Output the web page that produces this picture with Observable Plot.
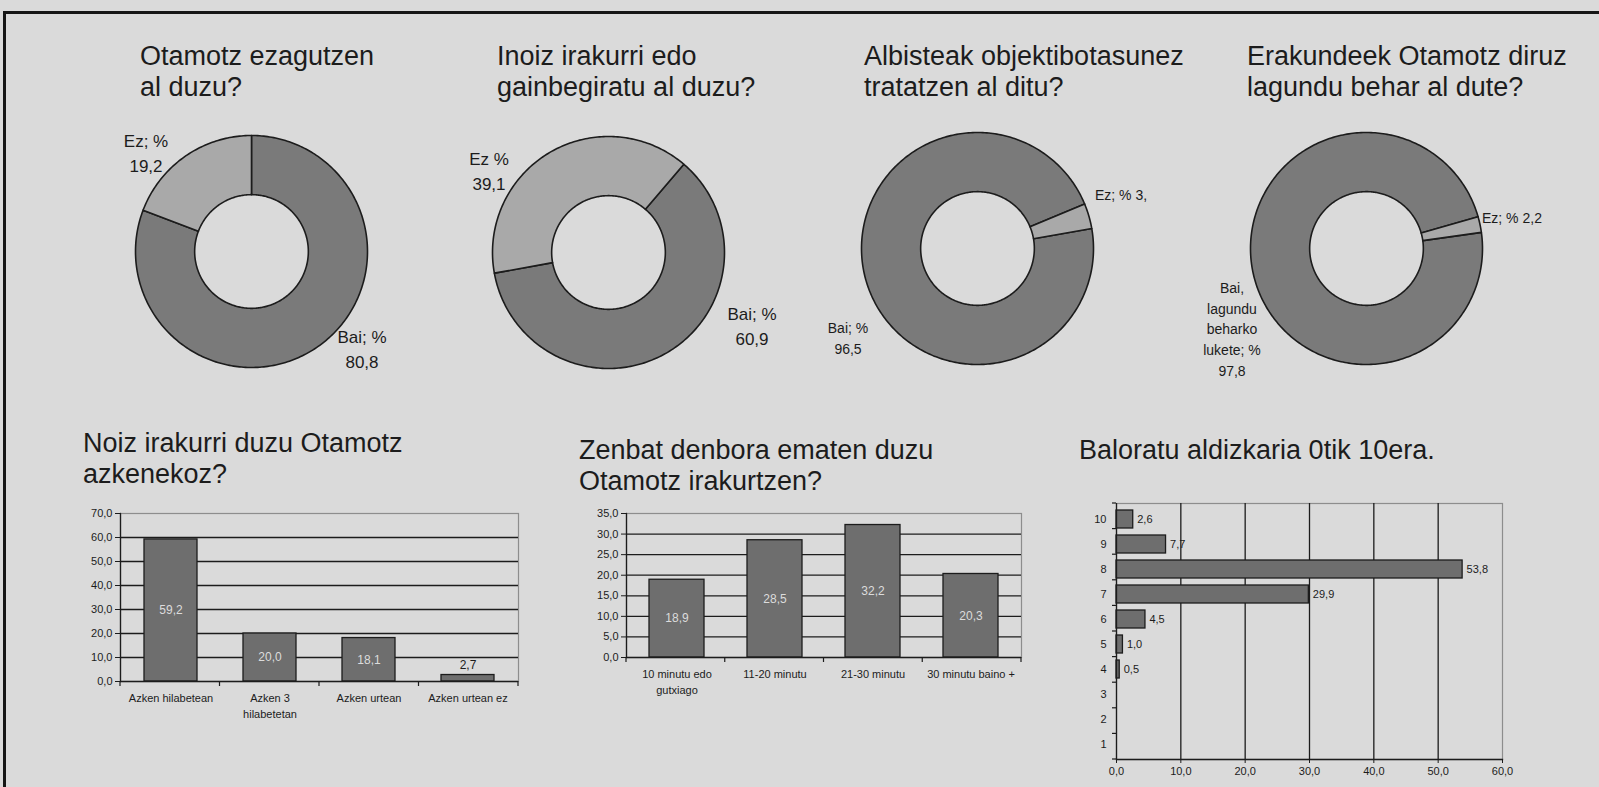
<!DOCTYPE html>
<html><head><meta charset="utf-8">
<script src="https://cdn.jsdelivr.net/npm/d3@7"></script>
<script src="https://cdn.jsdelivr.net/npm/@observablehq/plot@0.6"></script>
<style>
html,body{margin:0;padding:0;}
body{width:1599px;height:787px;overflow:hidden;background:#dadada;font-family:"Liberation Sans",Arial,sans-serif;}
#page{position:relative;width:1599px;height:787px;overflow:hidden;}
.title{position:absolute;font-size:27px;line-height:31px;color:#1c1c1c;white-space:pre;}
.lab{position:absolute;color:#1c1c1c;white-space:pre;}
.c{text-align:center;transform:translateX(-50%);}
.big{font-size:17px;line-height:25px;}
.small{font-size:14px;line-height:20.7px;}
svg{position:absolute;overflow:visible;}
</style></head>
<body><div id="page"></div>
<script>
// ---------- DATA ----------
const donutTitles = [
  "Otamotz ezagutzen\nal duzu?",
  "Inoiz irakurri edo\ngainbegiratu al duzu?",
  "Albisteak objektibotasunez\ntratatzen al ditu?",
  "Erakundeek Otamotz diruz\nlagundu behar al dute?"
];
const donutCategories = ["Bai", "Ez"];
const donut1Values = [80.8, 19.2];
const donut2Values = [60.9, 39.1];
const donut3Values = [96.5, 3.5];
const donut4Values = [97.8, 2.2];
const donut1Labels = ["Bai; %\n80,8", "Ez; %\n19,2"];
const donut2Labels = ["Bai; %\n60,9", "Ez %\n39,1"];
const donut3Labels = ["Bai; %\n96,5", "Ez; % 3,"];
const donut4Labels = ["Bai,\nlagundu\nbeharko\nlukete; %\n97,8", "Ez; % 2,2"];

const lastReadTitle = "Noiz irakurri duzu Otamotz\nazkenekoz?";
const lastReadCategories = ["Azken hilabetean", "Azken 3\nhilabetetan", "Azken urtean", "Azken urtean ez"];
const lastReadValues = [59.2, 20.0, 18.1, 2.7];
const lastReadTicks = [0, 10, 20, 30, 40, 50, 60, 70];

const timeTitle = "Zenbat denbora ematen duzu\nOtamotz irakurtzen?";
const timeCategories = ["10 minutu edo\ngutxiago", "11-20 minutu", "21-30 minutu", "30 minutu baino +"];
const timeValues = [18.9, 28.5, 32.2, 20.3];
const timeTicks = [0, 5, 10, 15, 20, 25, 30, 35];

const ratingTitle = "Baloratu aldizkaria 0tik 10era.";
const ratingCategories = ["10", "9", "8", "7", "6", "5", "4", "3", "2", "1"];
const ratingValues = [2.6, 7.7, 53.8, 29.9, 4.5, 1.0, 0.5, 0, 0, 0];
const ratingTicks = [0, 10, 20, 30, 40, 50, 60];

// ---------- LAYOUT / STYLE ----------
const DARK = "#7a7a7a", LIGHT = "#a9a9a9", INK = "#1c1c1c", BAR = "#6e6e6e", FRAME = "#8d8d8d";
const page = document.getElementById("page");
const fmt = d => d.toFixed(1).replace(".", ",");

function addDiv(cls, text, left, top) {
  const d = document.createElement("div");
  d.className = cls; d.textContent = text;
  d.style.left = left + "px"; d.style.top = top + "px";
  page.appendChild(d); return d;
}
function place(svg, left, top) {
  svg.style.left = left + "px"; svg.style.top = top + "px";
  page.appendChild(svg);
}

// borders
const topLine = document.createElement("div");
Object.assign(topLine.style, {position:"absolute", left:"3px", top:"11px", width:"1596px", height:"3px", background:"#151515"});
page.appendChild(topLine);
const leftLine = document.createElement("div");
Object.assign(leftLine.style, {position:"absolute", left:"3px", top:"11px", width:"2.5px", height:"776px", background:"#151515"});
page.appendChild(leftLine);

// ---------- DONUTS ----------
const donuts = [
  {values: donut1Values, labels: donut1Labels, start: 0,    cx: 251,  cy: 251, tx: 140},
  {values: donut2Values, labels: donut2Labels, start: 40.5, cx: 608,  cy: 252, tx: 497},
  {values: donut3Values, labels: donut3Labels, start: 80.1, cx: 977,  cy: 248, tx: 864},
  {values: donut4Values, labels: donut4Labels, start: 82.0, cx: 1366, cy: 248, tx: 1247}
];
const labelLayout = [
  [{cls:"lab big c", x:362, y:325}, {cls:"lab big c", x:146, y:129}],
  [{cls:"lab big c", x:752, y:302}, {cls:"lab big c", x:489, y:147}],
  [{cls:"lab small c", x:848, y:318}, {cls:"lab small", x:1095, y:185}],
  [{cls:"lab small c", x:1232, y:278}, {cls:"lab small", x:1482, y:208}]
];
const R = 116, INNER = 0.49, HALF = 122;

function segments(values, startDeg) {
  const total = d3.sum(values);
  let a = startDeg;
  return values.map((v, i) => {
    const a0 = a, a1 = a + v / total * 360; a = a1;
    const n = Math.max(2, Math.ceil(a1 - a0));
    const pts = [];
    for (let k = 0; k <= n; k++) { const t = (a0 + (a1 - a0) * k / n) * Math.PI / 180; pts.push({x: Math.sin(t), y: Math.cos(t)}); }
    for (let k = n; k >= 0; k--) { const t = (a0 + (a1 - a0) * k / n) * Math.PI / 180; pts.push({x: INNER * Math.sin(t), y: INNER * Math.cos(t)}); }
    pts.push(pts[0]);
    return {cat: donutCategories[i], pts};
  });
}

donuts.forEach((dn, j) => {
  addDiv("title", donutTitles[j], dn.tx, 41);
  const segs = segments(dn.values, dn.start);
  const k = HALF / R;
  const svg = Plot.plot({
    width: 2 * HALF, height: 2 * HALF,
    marginLeft: 0, marginRight: 0, marginTop: 0, marginBottom: 0,
    x: {domain: [-k, k], axis: null},
    y: {domain: [-k, k], axis: null},
    style: {background: "transparent"},
    marks: segs.map(s => Plot.line(s.pts, {x: "x", y: "y", fill: s.cat === "Bai" ? DARK : LIGHT, stroke: INK, strokeWidth: 1.6, strokeLinejoin: "round"}))
  });
  place(svg, dn.cx - HALF, dn.cy - HALF);
  dn.labels.forEach((t, i) => {
    const L = labelLayout[j][i];
    addDiv(L.cls, t, L.x, L.y);
  });
});

// ---------- helpers for band boundary ticks ----------
function xBoundaryTicks(n, len) {
  return (index, scales, values, dims) => {
    const g = d3.create("svg:g").attr("stroke", INK).attr("stroke-width", 1.2);
    const x0 = dims.marginLeft, x1 = dims.width - dims.marginRight, y = dims.height - dims.marginBottom;
    for (let i = 0; i <= n; i++) {
      const x = x0 + (x1 - x0) * i / n;
      g.append("line").attr("x1", x).attr("x2", x).attr("y1", y).attr("y2", y + len);
    }
    return g.node();
  };
}
function yBoundaryTicks(n, len) {
  return (index, scales, values, dims) => {
    const g = d3.create("svg:g").attr("stroke", INK).attr("stroke-width", 1.2);
    const y0 = dims.marginTop, y1 = dims.height - dims.marginBottom, x = dims.marginLeft;
    for (let i = 0; i <= n; i++) {
      const y = y0 + (y1 - y0) * i / n;
      g.append("line").attr("x1", x - len).attr("x2", x).attr("y1", y).attr("y2", y);
    }
    return g.node();
  };
}
const axisStyle = {background: "transparent", fontFamily: "'Liberation Sans', Arial, sans-serif", fontSize: "11px", color: INK};

// ---------- CHART: last read ----------
addDiv("title", lastReadTitle, 83, 428);
const lastRead = lastReadCategories.map((c, i) => ({cat: c, value: lastReadValues[i]}));
place(Plot.plot({
  width: 480, height: 235, marginLeft: 60, marginRight: 22, marginTop: 17, marginBottom: 50,
  style: axisStyle,
  x: {domain: lastReadCategories, paddingInner: 0.46, paddingOuter: 0.23, label: null},
  y: {domain: [0, 70], label: null},
  marks: [
    Plot.frame({stroke: FRAME, strokeWidth: 1.2}),
    Plot.gridY(lastReadTicks.slice(1, -1), {stroke: INK, strokeOpacity: 1, strokeWidth: 1.3}),
    Plot.barY(lastRead, {x: "cat", y: "value", fill: BAR, stroke: INK, strokeWidth: 1.3}),
    Plot.text(lastRead.filter(d => d.value >= 5), {x: "cat", y: d => d.value / 2, text: d => fmt(d.value), fill: "#dcdcdc", fontSize: 12}),
    Plot.text(lastRead.filter(d => d.value < 5), {x: "cat", y: "value", dy: -10, text: d => fmt(d.value), fill: INK, fontSize: 12}),
    Plot.axisY({ticks: lastReadTicks, tickFormat: fmt, tickSize: 5, tickPadding: 3, label: null, stroke: INK}),
    Plot.axisX({tickSize: 0, tickPadding: 9, label: null, lineHeight: 1.45}),
    Plot.ruleY([0], {stroke: INK, strokeWidth: 1.3}),
    Plot.frame({anchor: "left", stroke: INK, strokeWidth: 1.3}),
    xBoundaryTicks(lastReadCategories.length, 5)
  ]
}), 60, 496);

// ---------- CHART: reading time ----------
addDiv("title", timeTitle, 579, 435);
const timeData = timeCategories.map((c, i) => ({cat: c, value: timeValues[i]}));
place(Plot.plot({
  width: 470, height: 210, marginLeft: 56, marginRight: 19, marginTop: 18, marginBottom: 48,
  style: axisStyle,
  x: {domain: timeCategories, paddingInner: 0.44, paddingOuter: 0.22, label: null},
  y: {domain: [0, 35], label: null},
  marks: [
    Plot.frame({stroke: FRAME, strokeWidth: 1.2}),
    Plot.gridY(timeTicks.slice(1, -1), {stroke: INK, strokeOpacity: 1, strokeWidth: 1.3}),
    Plot.barY(timeData, {x: "cat", y: "value", fill: BAR, stroke: INK, strokeWidth: 1.3}),
    Plot.text(timeData, {x: "cat", y: d => d.value / 2, text: d => fmt(d.value), fill: "#dcdcdc", fontSize: 12}),
    Plot.axisY({ticks: timeTicks, tickFormat: fmt, tickSize: 5, tickPadding: 3, label: null, stroke: INK}),
    Plot.axisX({tickSize: 0, tickPadding: 9, label: null, lineHeight: 1.45}),
    Plot.ruleY([0], {stroke: INK, strokeWidth: 1.3}),
    Plot.frame({anchor: "left", stroke: INK, strokeWidth: 1.3}),
    xBoundaryTicks(timeCategories.length, 5)
  ]
}), 570, 495);

// ---------- CHART: rating ----------
addDiv("title", ratingTitle, 1079, 435);
const rating = ratingCategories.map((c, i) => ({cat: c, value: ratingValues[i]}));
const ratingShown = rating.filter(d => d.value > 0);
place(Plot.plot({
  width: 470, height: 304, marginLeft: 46, marginRight: 38, marginTop: 13, marginBottom: 35,
  style: axisStyle,
  y: {domain: ratingCategories, paddingInner: 0.3, paddingOuter: 0.15, label: null},
  x: {domain: [0, 60], label: null},
  marks: [
    Plot.frame({stroke: FRAME, strokeWidth: 1.2}),
    Plot.gridX(ratingTicks.slice(1, -1), {stroke: INK, strokeOpacity: 1, strokeWidth: 1.3}),
    Plot.barX(ratingShown, {y: "cat", x: "value", fill: BAR, stroke: INK, strokeWidth: 1.3}),
    Plot.text(ratingShown, {y: "cat", x: "value", dx: 4, textAnchor: "start", text: d => fmt(d.value), fill: INK, fontSize: 11}),
    Plot.axisX({ticks: ratingTicks, tickFormat: fmt, tickSize: 4, tickPadding: 4, label: null, stroke: INK}),
    Plot.axisY({tickSize: 0, tickPadding: 10, label: null}),
    Plot.ruleX([0], {stroke: INK, strokeWidth: 1.3}),
    Plot.frame({anchor: "bottom", stroke: INK, strokeWidth: 1.3}),
    yBoundaryTicks(ratingCategories.length, 4)
  ]
}), 1070, 490);
</script>
</body></html>
